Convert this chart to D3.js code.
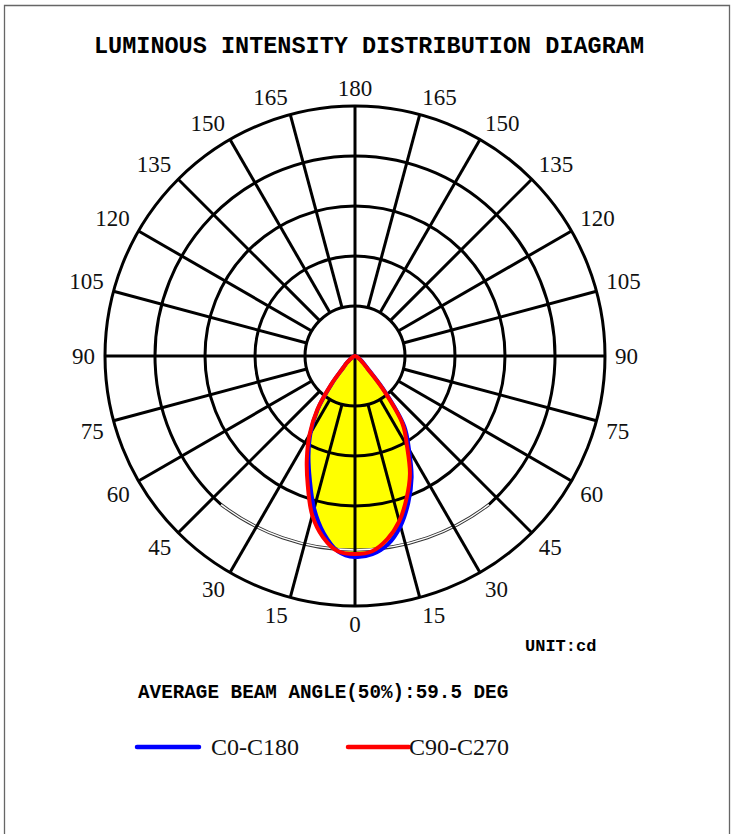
<!DOCTYPE html>
<html>
<head>
<meta charset="utf-8">
<script src="https://cdn.jsdelivr.net/npm/d3@7"></script>
<style>
  html, body { margin: 0; padding: 0; background: #fff; }
  svg { display: block; }
</style>
</head>
<body>
<svg id="chart" width="731" height="834"></svg>
<script>
// ---------------- data ----------------
const gammaAngles = [0,5,10,15,20,25,30,35,40,45,50,55,60,65,70,75,80,85,90];
// intensity (relative units, same scale as rings)
const C0   = [201,199,191,176,156,134,108,86,47,19,11,7,4,2.5,1.5,1,0.5,0.2,0];   // right half, blue
const C180 = [201,196,180,158,132,110,89,65,36,17,11,6,4,2.5,1.5,1,0.5,0.2,0];    // left half, blue
const C90  = [198,196,186,171,151,130,104,83,44,17,10,6,4,2.5,1.5,1,0.5,0.2,0];   // right half, red
const C270 = [198,196,184,165,138,114,91,66,37,17,11,6,4,2.5,1.5,1,0.5,0.2,0];    // left half, red

const ringValues = [50,100,150,200,250];
const spokeAngles = [0,15,30,45,60,75,90,105,120,135,150,165,180,195,210,225,240,255,270,285,300,315,330,345];
const leftLabels  = [0,15,30,45,60,75,90,105,120,135,150,165,180];
const rightLabels = [15,30,45,60,75,90,105,120,135,150,165];

const titleText = "LUMINOUS INTENSITY DISTRIBUTION DIAGRAM";
const unitText = "UNIT:cd";
const beamText = "AVERAGE BEAM ANGLE(50%):59.5 DEG";
const seriesNames = ["C0-C180", "C90-C270"];
const seriesColors = ["#0000ff", "#ff0000"];

// ---------------- drawing ----------------
const svg = d3.select("#chart");
const cx = 355, cy = 356;
const rScale = d3.scaleLinear().domain([0, 250]).range([0, 250]);
const rad = d => d * Math.PI / 180;

// border
svg.append("path")
  .attr("d", "M4.5,840 V5.5 H729.5 V840")
  .attr("fill", "none").attr("stroke", "#666").attr("stroke-width", 1.3);

// title
svg.append("text").attr("x", 369).attr("y", 53)
  .attr("text-anchor", "middle")
  .style("font-family", "'Liberation Mono', 'Courier New', monospace")
  .style("font-weight", "bold").style("font-size", "23.5px")
  .text(titleText);

const g = svg.append("g").attr("transform", `translate(${cx},${cy})`);

// build half-plane point lists: angle in d3 radial convention (0 = up, clockwise)
function lobe(rightVals, leftVals) {
  const pts = [];
  for (let i = gammaAngles.length - 1; i >= 0; i--)
    pts.push([Math.PI - rad(gammaAngles[i]), rScale(rightVals[i])]);
  for (let i = 1; i < gammaAngles.length - 1; i++)
    pts.push([Math.PI + rad(gammaAngles[i]), rScale(leftVals[i])]);
  return pts;
}
const radial = d3.lineRadial()
  .angle(d => d[0]).radius(d => d[1])
  .curve(d3.curveCatmullRomClosed.alpha(0.5));

const blueLobe = lobe(C0, C180);
const redLobe = lobe(C90, C270);

// yellow fill
g.append("path").attr("d", radial(blueLobe)).attr("fill", "#ffff00");
g.append("path").attr("d", radial(redLobe)).attr("fill", "#ffff00");

// grid rings
const gridColor = "#000";
ringValues.forEach(v => {
  if (v === 200) {
    const arc = d3.arc().innerRadius(rScale(v)).outerRadius(rScale(v))
      .startAngle(rad(180 + 42)).endAngle(rad(180 - 42 + 360));
    g.append("path").attr("d", arc()).attr("fill", "none")
      .attr("stroke", gridColor).attr("stroke-width", 3);
    // thin double-outline section near nadir
    const a = rad(42);
    const x1 = -rScale(v) * Math.sin(a), y1 = rScale(v) * Math.cos(a);
    const bottom = 194;
    const k = (x1 * x1 + y1 * y1 - bottom * bottom) / (2 * (bottom - y1));
    const R = bottom + k;
    const d = `M${x1},${y1} A${R},${R} 0 0 0 ${-x1},${y1}`;
    g.append("path").attr("d", d).attr("fill", "none")
      .attr("stroke", "#333").attr("stroke-width", 3.2);
    g.append("path").attr("d", d).attr("fill", "#fff0").attr("fill", "none")
      .attr("stroke", "#fff").attr("stroke-width", 1.3);
  } else {
    g.append("circle").attr("r", rScale(v)).attr("fill", "none")
      .attr("stroke", gridColor).attr("stroke-width", 3);
  }
});

// spokes
spokeAngles.forEach(t => {
  const axis = (t % 90 === 0);
  const r0 = axis ? 0 : rScale(ringValues[0]);
  const r1 = rScale(ringValues[ringValues.length - 1]);
  const s = Math.sin(rad(t)), c = Math.cos(rad(t));
  g.append("line")
    .attr("x1", r0 * s).attr("y1", r0 * c)
    .attr("x2", r1 * s).attr("y2", r1 * c)
    .attr("stroke", gridColor).attr("stroke-width", 3);
});

// angle labels
const labelR = 260;
const labelFont = "'Liberation Serif', 'Times New Roman', serif";
function addLabel(t, side) {
  const s = Math.sin(rad(t)), c = Math.cos(rad(t));
  let anchor = side < 0 ? "end" : "start";
  if (t === 0 || t === 180) anchor = "middle";
  let dy = "0em";
  if (t < 90) dy = "0.68em";
  else if (t === 90) dy = "0.35em";
  g.append("text")
    .attr("x", side * labelR * s + (t === 0 ? 0 : 0)).attr("y", labelR * c)
    .attr("dy", dy).attr("text-anchor", anchor)
    .style("font-family", labelFont).style("font-size", "23px").style("fill", "#111")
    .text(t);
}
leftLabels.forEach(t => addLabel(t, -1));
rightLabels.forEach(t => addLabel(t, 1));

// curves
g.append("path").attr("d", radial(blueLobe)).attr("fill", "none")
  .attr("stroke", seriesColors[0]).attr("stroke-width", 4).attr("stroke-linejoin", "round");
g.append("path").attr("d", radial(redLobe)).attr("fill", "none")
  .attr("stroke", seriesColors[1]).attr("stroke-width", 4).attr("stroke-linejoin", "round");

// unit
svg.append("text").attr("x", 525).attr("y", 651)
  .style("font-family", "'Liberation Mono', 'Courier New', monospace")
  .style("font-weight", "bold").style("font-size", "17px")
  .text(unitText);

// beam angle
svg.append("text").attr("x", 138).attr("y", 698)
  .style("font-family", "'Liberation Mono', 'Courier New', monospace")
  .style("font-weight", "bold").style("font-size", "19.3px")
  .text(beamText);

// legend
const legendItems = [
  { name: seriesNames[0], color: seriesColors[0], x1: 137, x2: 199, tx: 211 },
  { name: seriesNames[1], color: seriesColors[1], x1: 348, x2: 409, tx: 409 }
];
legendItems.forEach(it => {
  svg.append("line").attr("x1", it.x1).attr("x2", it.x2).attr("y1", 747).attr("y2", 747)
    .attr("stroke", it.color).attr("stroke-width", 4.5).attr("stroke-linecap", "round");
  svg.append("text").attr("x", it.tx).attr("y", 755)
    .style("font-family", labelFont).style("font-size", "24px").style("fill", "#111")
    .text(it.name);
});
</script>
</body>
</html>
